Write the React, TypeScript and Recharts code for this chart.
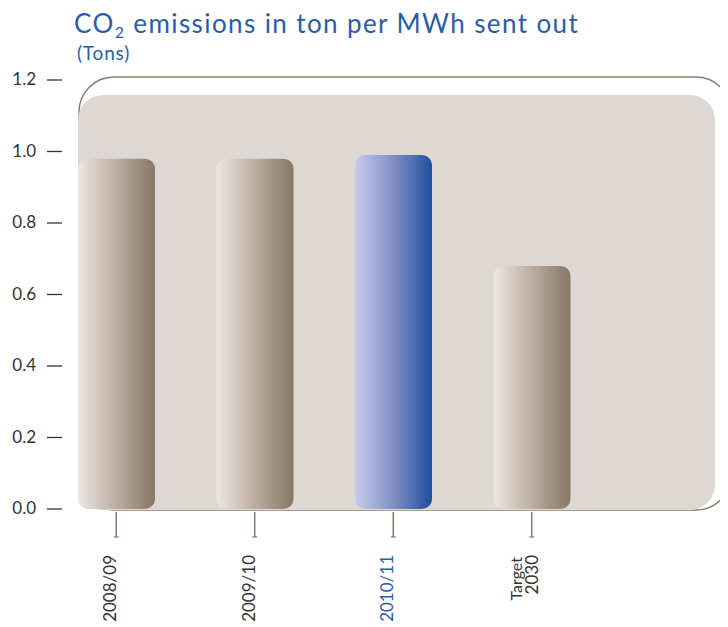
import React from 'react';
import { BarChart, Bar, XAxis, YAxis, Cell } from 'recharts';

const categories = ['2008/09', '2009/10', '2010/11', 'Target 2030'];
const emissions = [0.98, 0.98, 0.99, 0.68];
const highlighted = ['2010/11'];
const yTicks = [0, 0.2, 0.4, 0.6, 0.8, 1.0, 1.2];

const data = categories.map((c, i) => ({ name: c, value: emissions[i] }));

const FONT = 'Lato, "Open Sans", sans-serif';
const BLUE = '#2a5ca8';
const BROWN = '#8c7b6b';

const YTick = (props: any) => {
  const { x, y, payload } = props;
  return (
    <g>
      <text x={x} y={y + 5} textAnchor="end" fontFamily={FONT} fontSize={17} fill="#333">
        {Number(payload.value).toFixed(1)}
      </text>
      <line x1={x + 11} x2={x + 26} y1={y} y2={y} stroke="#333" strokeWidth={1.3} />
    </g>
  );
};

const XTick = (props: any) => {
  const { x, y, payload } = props;
  const label: string = payload.value;
  const color = highlighted.includes(label) ? BLUE : '#333';
  const parts = label.split(' ');
  return (
    <g>
      <line x1={x} x2={x} y1={y + 3} y2={y + 28} stroke={BROWN} strokeWidth={1.5} />
      <line x1={x - 2.5} x2={x + 2.5} y1={y + 28} y2={y + 28} stroke={BROWN} strokeWidth={1.2} />
      {parts.length === 1 ? (
        <text transform={`translate(${x},${y + 46}) rotate(-90)`} textAnchor="end" fontFamily={FONT} fontSize={17} fill={color}>
          {label}
        </text>
      ) : (
        <g>
          <text transform={`translate(${x - 10},${y + 48}) rotate(-90)`} textAnchor="end" fontFamily={FONT} fontSize={16} fill={color}>
            {parts[0]}
          </text>
          <text transform={`translate(${x + 6},${y + 46}) rotate(-90)`} textAnchor="end" fontFamily={FONT} fontSize={17} fill={color}>
            {parts[1]}
          </text>
        </g>
      )}
    </g>
  );
};

export default function App() {
  return (
    <div style={{ position: 'relative', width: 720, height: 619 }}>
      <svg width={720} height={619} style={{ position: 'absolute', left: 0, top: 0 }}>
        <rect x={71} y={69} width={652} height={433} rx={35} ry={35} fill="none" stroke={BROWN} strokeWidth={1.5} />
        <rect x={70} y={87} width={637} height={415} rx={25} ry={25} fill="#ddd8d3" />
        <text x={66} y={25} fontFamily={FONT} fontSize={26} letterSpacing={1.4} fill={BLUE}>
          CO<tspan fontSize={16} dy={5}>2</tspan>
          <tspan dy={-5}> emissions in ton per MWh sent out</tspan>
        </text>
        <text x={69} y={52} fontFamily={FONT} fontSize={19} letterSpacing={0.8} fill={BLUE}>
          (Tons)
        </text>
      </svg>
      <div style={{ position: 'absolute', left: 0, top: 0 }}>
        <BarChart width={720} height={619} data={data} margin={{ top: 72, right: 127, bottom: 0, left: 0 }}>
          <defs>
            <linearGradient id="gradBrown" x1="0" y1="0" x2="1" y2="0">
              <stop offset="0%" stopColor="#ebe7e3" />
              <stop offset="35%" stopColor="#cbbfb3" />
              <stop offset="75%" stopColor="#a29080" />
              <stop offset="100%" stopColor="#8a7867" />
            </linearGradient>
            <linearGradient id="gradBlue" x1="0" y1="0" x2="1" y2="0">
              <stop offset="0%" stopColor="#c6cce9" />
              <stop offset="45%" stopColor="#8896c9" />
              <stop offset="100%" stopColor="#1f4e9e" />
            </linearGradient>
          </defs>
          <XAxis
            dataKey="name"
            height={118}
            axisLine={false}
            tickLine={false}
            tickSize={0}
            tickMargin={0}
            interval={0}
            tick={<XTick />}
          />
          <YAxis
            width={39}
            domain={[0, 1.2]}
            ticks={yTicks}
            interval={0}
            axisLine={false}
            tickLine={false}
            tickSize={0}
            tickMargin={11}
            tick={<YTick />}
          />
          <Bar dataKey="value" barSize={77} radius={10} isAnimationActive={false}>
            {data.map((d) => (
              <Cell key={d.name} fill={highlighted.includes(d.name) ? 'url(#gradBlue)' : 'url(#gradBrown)'} />
            ))}
          </Bar>
        </BarChart>
      </div>
    </div>
  );
}
